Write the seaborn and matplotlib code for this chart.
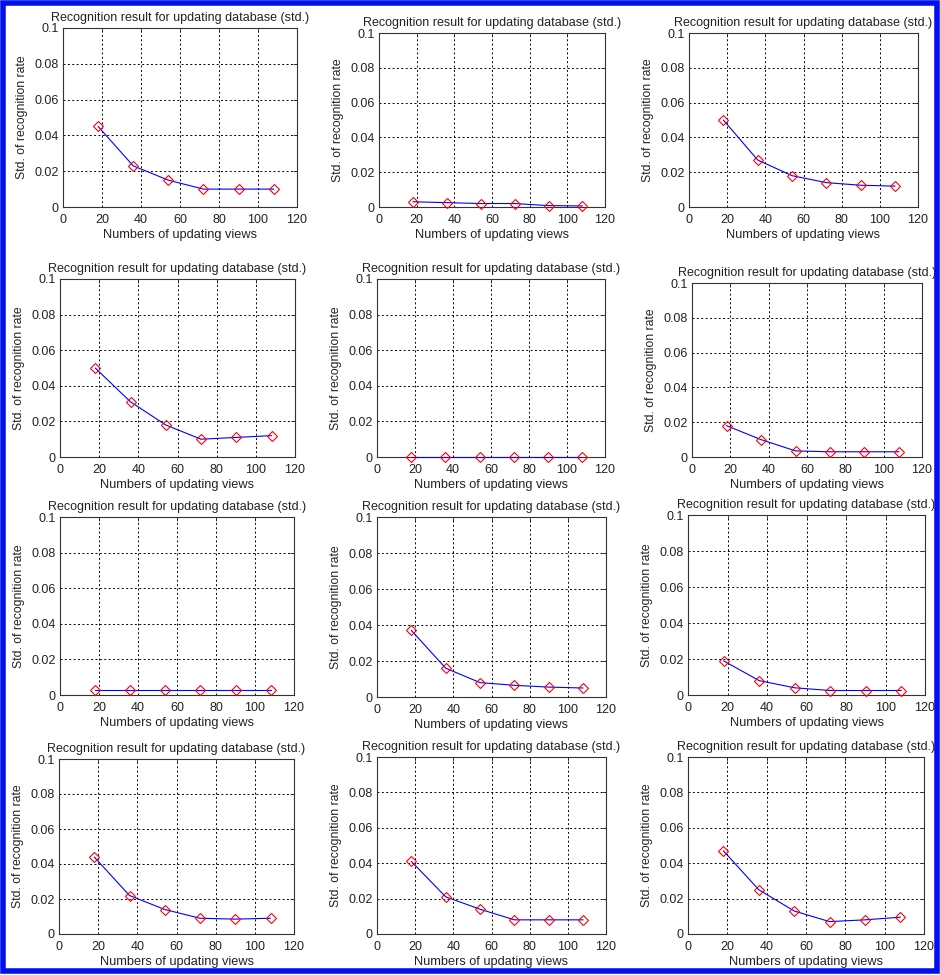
import numpy as np
import pandas as pd
import matplotlib
matplotlib.use("Agg")
import matplotlib.pyplot as plt
import seaborn as sns
from matplotlib.patches import Rectangle

# numbers of updating views (same for every panel)
views = [18, 36, 54, 72, 90, 108]

# std. of recognition rate, one list per panel (row by row)
std_p1 = [0.045, 0.023, 0.015, 0.010, 0.010, 0.010]
std_p2 = [0.003, 0.0025, 0.002, 0.002, 0.0008, 0.0006]
std_p3 = [0.050, 0.027, 0.018, 0.014, 0.0125, 0.012]
std_p4 = [0.050, 0.031, 0.018, 0.010, 0.011, 0.012]
std_p5 = [0.0, 0.0, 0.0, 0.0, 0.0, 0.0]
std_p6 = [0.018, 0.010, 0.0035, 0.003, 0.003, 0.003]
std_p7 = [0.003, 0.003, 0.003, 0.003, 0.003, 0.003]
std_p8 = [0.037, 0.016, 0.008, 0.0065, 0.0055, 0.005]
std_p9 = [0.019, 0.008, 0.004, 0.0025, 0.0025, 0.0025]
std_p10 = [0.044, 0.022, 0.014, 0.009, 0.0085, 0.009]
std_p11 = [0.041, 0.021, 0.014, 0.008, 0.008, 0.008]
std_p12 = [0.047, 0.025, 0.013, 0.007, 0.008, 0.0095]

panels = [std_p1, std_p2, std_p3, std_p4, std_p5, std_p6,
          std_p7, std_p8, std_p9, std_p10, std_p11, std_p12]

xticks = [0, 20, 40, 60, 80, 100, 120]
yticks = [0, 0.02, 0.04, 0.06, 0.08, 0.1]
ytick_labels = ["0", "0.02", "0.04", "0.06", "0.08", "0.1"]

title = "Recognition result for updating database (std.)"
xlabel = "Numbers of updating views"
ylabel = "Std. of recognition rate"

# axes boxes in pixels: left, top, right, bottom
boxes = [(63, 28, 297, 207), (379, 33, 605, 207), (689, 33, 918, 207),
         (60, 279, 295, 457), (377, 279, 605, 457), (692, 283, 922, 457),
         (60, 517, 294, 695), (377, 517, 606, 697), (688, 515, 925, 695),
         (59, 759, 294, 934), (377, 757, 606, 934), (688, 757, 924, 934)]

sns.set_style("white")
plt.rcParams["font.family"] = ["Liberation Sans", "DejaVu Sans"]

W, H = 940, 975
fig = plt.figure(figsize=(W / 100, H / 100), dpi=100)

for vals, (l, t, r, b) in zip(panels, boxes):
    ax = fig.add_axes([l / W, 1 - b / H, (r - l) / W, (b - t) / H])
    df = pd.DataFrame({"views": views, "std": vals})
    sns.lineplot(data=df, x="views", y="std", ax=ax, color="blue", lw=0.8,
                 marker="D", ms=5.5, mec="red", mfc="none", mew=0.8,
                 clip_on=False, zorder=3)
    ax.set_xlim(0, 120)
    ax.set_ylim(0, 0.1)
    ax.set_xticks(xticks)
    ax.set_yticks(yticks)
    ax.set_yticklabels(ytick_labels)
    ax.grid(True, color="black", linestyle=(0, (2, 2.5)), lw=0.7)
    ax.set_axisbelow(True)
    ax.tick_params(direction="in", top=True, right=True, length=3,
                   width=0.6, labelsize=9, colors="#222222")
    ax.tick_params(axis="x", pad=5)
    ax.tick_params(axis="y", pad=3)
    for sp in ax.spines.values():
        sp.set_color("#333333")
        sp.set_linewidth(0.8)
    ax.set_title(title, fontsize=9, pad=5, color="#222222")
    ax.set_xlabel(xlabel, fontsize=9.2, labelpad=2, color="#222222")
    ax.set_ylabel(ylabel, fontsize=8.8, labelpad=5, color="#222222")

# blue frame around the whole figure
fig.patches.append(Rectangle((2.5 / W, 4 / H), 1 - 6 / W, 1 - 7 / H,
                             transform=fig.transFigure, fill=False,
                             edgecolor="#0010ee", lw=4))

fig.savefig("out.png", dpi=100)
